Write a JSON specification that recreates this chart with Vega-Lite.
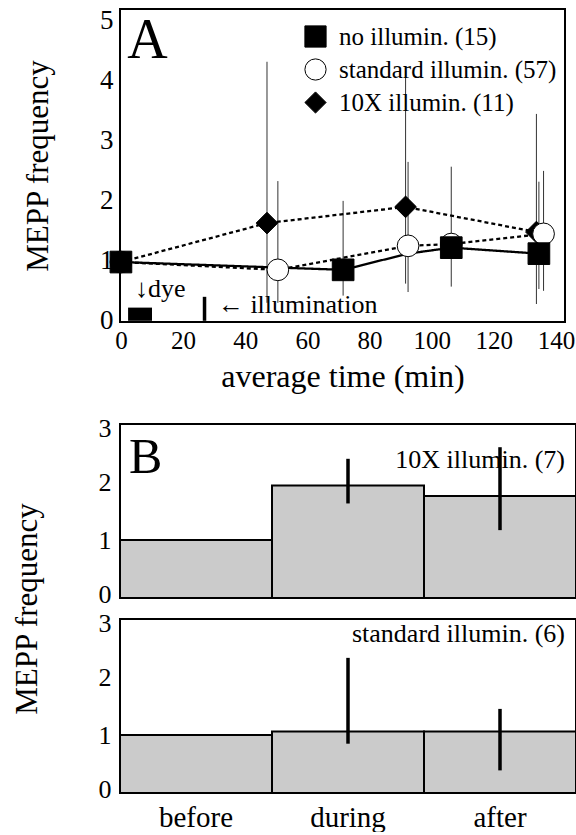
{
  "$schema": "https://vega.github.io/schema/vega-lite/v6.json",
  "background": "white",
  "padding": {"left": 11, "top": 5, "right": 0, "bottom": 0},
  "config": {
    "font": "Liberation Serif",
    "view": {"stroke": "black", "strokeWidth": 2},
    "axis": {"labelColor": "black", "titleColor": "black", "titleFontWeight": "normal", "grid": false, "domain": false, "ticks": false, "labelFont": "Liberation Serif", "titleFont": "Liberation Serif"},
    "legend": {"labelFont": "Liberation Serif", "labelColor": "black"},
    "text": {"font": "Liberation Serif", "color": "black"}
  },
  "datasets": {
    "timecourse": [
      {"group": "10X illumin. (11)", "t": 0, "v": 0.98, "lo": null, "hi": null, "marker": true},
      {"group": "10X illumin. (11)", "t": 47, "v": 1.63, "lo": 0.3, "hi": 4.32, "marker": true},
      {"group": "10X illumin. (11)", "t": 91.6, "v": 1.9, "lo": 0.62, "hi": 4.17, "marker": true},
      {"group": "10X illumin. (11)", "t": 133.7, "v": 1.48, "lo": 0.28, "hi": 3.45, "marker": true},
      {"group": "standard illumin. (57)", "t": 0, "v": 0.98, "lo": null, "hi": null, "marker": true},
      {"group": "standard illumin. (57)", "t": 50.5, "v": 0.85, "lo": 0.3, "hi": 2.33, "marker": true},
      {"group": "standard illumin. (57)", "t": 92.4, "v": 1.25, "lo": 0.48, "hi": 2.65, "marker": true},
      {"group": "standard illumin. (57)", "t": 106.3, "v": 1.28, "lo": null, "hi": null, "marker": true},
      {"group": "standard illumin. (57)", "t": 136, "v": 1.45, "lo": 0.5, "hi": 2.5, "marker": true},
      {"group": "no illumin. (15)", "t": 0, "v": 0.98, "lo": null, "hi": null, "marker": true},
      {"group": "no illumin. (15)", "t": 71.5, "v": 0.85, "lo": 0.42, "hi": 2.0, "marker": true},
      {"group": "no illumin. (15)", "t": 92.4, "v": 1.12, "lo": null, "hi": null, "marker": false},
      {"group": "no illumin. (15)", "t": 106.3, "v": 1.22, "lo": 0.57, "hi": 2.57, "marker": true},
      {"group": "no illumin. (15)", "t": 134.5, "v": 1.12, "lo": 0.53, "hi": 2.32, "marker": true}
    ],
    "dye": [{"t0": 2.3, "t1": 10, "v0": 0, "v1": 0.22}],
    "illumination": [{"t": 26.9, "v0": 0, "v1": 0.4}],
    "notes": [
      {"t": 4.5, "v": 0.53, "note": "↓dye"},
      {"t": 31.2, "v": 0.27, "note": "← illumination"}
    ],
    "panelA": [{"t": 2.0, "v": 4.67, "tag": "A"}],
    "periods": [
      {"panel": "10X illumin. (7)", "period": "before", "mean": 1.0, "lo": null, "hi": null, "tag": "B"},
      {"panel": "10X illumin. (7)", "period": "during", "mean": 1.94, "lo": 1.63, "hi": 2.4, "tag": ""},
      {"panel": "10X illumin. (7)", "period": "after", "mean": 1.76, "lo": 1.17, "hi": 2.6, "tag": ""},
      {"panel": "standard illumin. (6)", "period": "before", "mean": 1.0, "lo": null, "hi": null, "tag": ""},
      {"panel": "standard illumin. (6)", "period": "during", "mean": 1.06, "lo": 0.85, "hi": 2.33, "tag": ""},
      {"panel": "standard illumin. (6)", "period": "after", "mean": 1.06, "lo": 0.39, "hi": 1.45, "tag": ""}
    ]
  },
  "concat": [
    {
      "width": 445,
      "height": 313,
      "layer": [
        {
          "data": {"name": "timecourse"},
          "transform": [{"filter": "datum.lo != null"}],
          "mark": {"type": "rule", "strokeWidth": 1, "color": "#333333"},
          "encoding": {
            "x": {"field": "t", "type": "quantitative", "scale": {"domain": [-0.3, 142.9], "nice": false, "zero": false},
                  "axis": {"values": [0, 20, 40, 60, 80, 100, 120, 140], "format": "d", "labelFontSize": 25, "labelPadding": 6, "titleFontSize": 32, "titlePadding": 8, "labelFlush": false},
                  "title": "average time (min)"},
            "y": {"field": "lo", "type": "quantitative", "scale": {"domain": [-0.02, 5.2], "nice": false, "zero": false},
                  "axis": {"values": [0, 1, 2, 3, 4, 5], "format": "d", "labelFontSize": 27, "labelPadding": 7, "titleFontSize": 31, "titlePadding": 45, "labelFlush": false},
                  "title": "MEPP frequency"},
            "y2": {"field": "hi"}
          }
        },
        {
          "data": {"name": "timecourse"},
          "mark": {"type": "line", "strokeWidth": 2.3, "color": "black"},
          "encoding": {
            "x": {"field": "t", "type": "quantitative"},
            "y": {"field": "v", "type": "quantitative"},
            "strokeDash": {"field": "group", "type": "nominal",
              "scale": {"domain": ["no illumin. (15)", "standard illumin. (57)", "10X illumin. (11)"], "range": [[1, 0], [4, 3], [4, 3]]},
              "legend": null}
          }
        },
        {
          "data": {"name": "timecourse"},
          "transform": [{"filter": "datum.marker"}],
          "mark": {"type": "point", "filled": true, "opacity": 1, "stroke": "black", "strokeWidth": 1, "size": 470},
          "encoding": {
            "x": {"field": "t", "type": "quantitative"},
            "y": {"field": "v", "type": "quantitative"},
            "shape": {"field": "group", "type": "nominal",
              "scale": {"domain": ["no illumin. (15)", "standard illumin. (57)", "10X illumin. (11)"], "range": ["square", "circle", "diamond"]},
              "legend": {"orient": "none", "legendX": 183, "legendY": 15, "title": null, "labelFontSize": 25, "labelLimit": 400, "symbolSize": 450, "labelOffset": 11, "rowPadding": 6, "symbolStrokeColor": "black", "symbolStrokeWidth": 1, "symbolOpacity": 1, "padding": 0,
                "encode": {"symbols": {"update": {"stroke": {"value": "black"}, "strokeWidth": {"value": 1}}}}}},
            "fill": {"field": "group", "type": "nominal",
              "scale": {"domain": ["no illumin. (15)", "standard illumin. (57)", "10X illumin. (11)"], "range": ["black", "white", "black"]},
              "legend": {"orient": "none", "legendX": 183, "legendY": 15, "title": null, "labelFontSize": 25, "labelLimit": 400, "symbolSize": 450, "labelOffset": 11, "rowPadding": 6, "symbolStrokeColor": "black", "symbolStrokeWidth": 1, "symbolOpacity": 1, "padding": 0,
                "encode": {"symbols": {"update": {"stroke": {"value": "black"}, "strokeWidth": {"value": 1}}}}}}
          }
        },
        {
          "data": {"name": "dye"},
          "mark": {"type": "rect", "color": "black"},
          "encoding": {
            "x": {"field": "t0", "type": "quantitative"},
            "x2": {"field": "t1"},
            "y": {"field": "v0", "type": "quantitative"},
            "y2": {"field": "v1"}
          }
        },
        {
          "data": {"name": "illumination"},
          "mark": {"type": "rule", "strokeWidth": 3.5, "color": "black"},
          "encoding": {
            "x": {"field": "t", "type": "quantitative"},
            "y": {"field": "v0", "type": "quantitative"},
            "y2": {"field": "v1"}
          }
        },
        {
          "data": {"name": "notes"},
          "mark": {"type": "text", "fontSize": 26, "align": "left", "baseline": "middle"},
          "encoding": {
            "x": {"field": "t", "type": "quantitative"},
            "y": {"field": "v", "type": "quantitative"},
            "text": {"field": "note"}
          }
        },
        {
          "data": {"name": "panelA"},
          "mark": {"type": "text", "fontSize": 56, "align": "left", "baseline": "middle"},
          "encoding": {
            "x": {"field": "t", "type": "quantitative"},
            "y": {"field": "v", "type": "quantitative"},
            "text": {"field": "tag"}
          }
        }
      ]
    },
    {
      "data": {"name": "periods"},
      "facet": {
        "row": {"field": "panel", "type": "nominal", "sort": ["10X illumin. (7)", "standard illumin. (6)"],
          "header": {"labels": false, "title": "MEPP frequency", "titleFontSize": 31, "titleFont": "Liberation Serif", "titleFontWeight": "normal", "titleColor": "black", "titlePadding": 44}}
      },
      "spacing": 18,
      "spec": {
        "width": 456,
        "height": 174,
        "layer": [
          {
            "mark": {"type": "bar", "fill": "#cbcbcb", "stroke": "black", "strokeWidth": 2},
            "encoding": {
              "x": {"field": "period", "type": "ordinal", "sort": ["before", "during", "after"],
                    "scale": {"paddingInner": 0, "paddingOuter": 0},
                    "axis": {"labelFontSize": 29, "labelAngle": 0, "labelPadding": 8, "title": null}},
              "y": {"field": "mean", "type": "quantitative", "scale": {"domain": [0, 3], "nice": false},
                    "axis": {"values": [0, 1, 2, 3], "format": "d", "labelFontSize": 26, "labelPadding": 7, "title": null,
                      "labelOffset": {"condition": [{"test": "datum.value == 3", "value": 4}, {"test": "datum.value == 0", "value": -4}], "value": 0}}}
            }
          },
          {
            "transform": [{"filter": "datum.lo != null"}],
            "mark": {"type": "rule", "strokeWidth": 3.5, "color": "black"},
            "encoding": {
              "x": {"field": "period", "type": "ordinal", "sort": ["before", "during", "after"]},
              "y": {"field": "lo", "type": "quantitative"},
              "y2": {"field": "hi"}
            }
          },
          {
            "transform": [{"filter": "datum.period == 'after' && datum.panel == '10X illumin. (7)'"}],
            "mark": {"type": "text", "fontSize": 26, "align": "right", "baseline": "middle", "dx": -11},
            "encoding": {
              "x": {"field": "period", "type": "ordinal", "sort": ["before", "during", "after"], "bandPosition": 1},
              "y": {"datum": 2.38, "type": "quantitative"},
              "text": {"field": "panel"}
            }
          },
          {
            "transform": [{"filter": "datum.period == 'after' && datum.panel == 'standard illumin. (6)'"}],
            "mark": {"type": "text", "fontSize": 26, "align": "right", "baseline": "middle", "dx": -11},
            "encoding": {
              "x": {"field": "period", "type": "ordinal", "sort": ["before", "during", "after"], "bandPosition": 1},
              "y": {"datum": 2.74, "type": "quantitative"},
              "text": {"field": "panel"}
            }
          },
          {
            "transform": [{"filter": "datum.tag != ''"}],
            "mark": {"type": "text", "fontSize": 50, "align": "left", "baseline": "middle", "dx": 9},
            "encoding": {
              "x": {"field": "period", "type": "ordinal", "sort": ["before", "during", "after"], "bandPosition": 0},
              "y": {"datum": 2.42, "type": "quantitative"},
              "text": {"field": "tag"}
            }
          }
        ]
      }
    }
  ],
  "resolve": {"legend": {"shape": "independent", "fill": "independent"}},
  "columns": 1,
  "align": "none",
  "spacing": 22
}
